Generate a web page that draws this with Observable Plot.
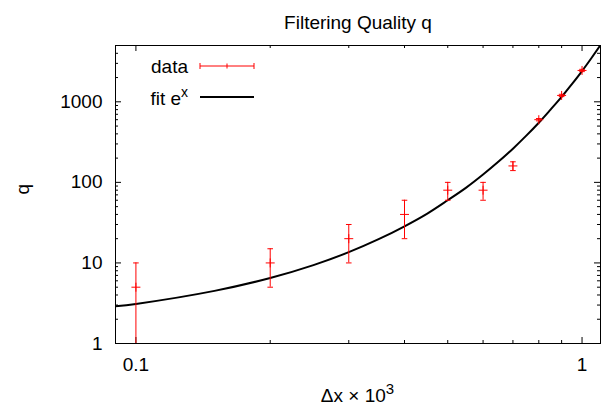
<!DOCTYPE html>
<html><head><meta charset="utf-8">
<script src="https://cdn.jsdelivr.net/npm/d3@7"></script>
<script src="https://cdn.jsdelivr.net/npm/@observablehq/plot@0.6"></script>
<style>
body{margin:0;background:#fff;}
#chart{width:614px;height:411px;}
</style></head><body><div id="chart"></div>
<script>
// ---- data ----
const xData = [0.1, 0.2, 0.3, 0.4, 0.5, 0.6, 0.7, 0.8, 0.9, 1.0];
const qData = [5, 10, 20, 40, 80, 80, 160, 600, 1200, 2450];
const qLow  = [0, 5, 10, 20, 60, 60, 140, 580, 1160, 2370];
const qHigh = [10, 15, 30, 60, 100, 100, 180, 620, 1240, 2530];

const fitX = [0.09, 0.1, 0.15, 0.2, 0.25, 0.3, 0.35, 0.4, 0.45, 0.5, 0.55, 0.6, 0.65, 0.7, 0.75, 0.8, 0.85, 0.9, 0.95, 1.0, 1.05, 1.1];
const fitQ = [2.9, 3.1, 4.5, 6.5, 9.4, 13.6, 19.7, 28.5, 41, 60, 86, 125, 181, 262, 380, 550, 800, 1150, 1670, 2410, 3500, 5060];

const xMajorTicks = [0.1, 1];
const xMinorTicks = [0.2, 0.3, 0.4, 0.5, 0.6, 0.7, 0.8, 0.9];
const yMajorTicks = [1, 10, 100, 1000];
const yMinorTicks = [2, 3, 4, 5, 6, 7, 8, 9, 20, 30, 40, 50, 60, 70, 80, 90, 200, 300, 400, 500, 600, 700, 800, 900, 2000, 3000, 4000];

const titleText = "Filtering Quality q";
const xLabelBase = "Δx × 10";
const xLabelSup = "3";
const yLabelText = "q";
const legendData = "data";
const legendFit = "fit e";
const legendFitSup = "x";

// ---- layout ----
const W = 614, H = 411, mL = 115, mR = 14, mT = 45, mB = 68;
const frameW = W - mL - mR, frameH = H - mT - mB;
const FONT = "'Liberation Sans', Arial, Helvetica, sans-serif";
const RED = "#ff0000";

const points = xData.map((x, i) => ({x, q: qData[i], lo: qLow[i], hi: qHigh[i]}));
const fit = fitX.map((x, i) => ({x, q: fitQ[i]}));

const capSymbol = {
  draw(context, size) {
    const w = Math.sqrt(size / Math.PI);
    context.moveTo(-w, 0);
    context.lineTo(w, 0);
  }
};

const svg = Plot.plot({
  width: W, height: H,
  marginLeft: mL, marginRight: mR, marginTop: mT, marginBottom: mB,
  style: {fontFamily: FONT, fontSize: "19px", background: "white", color: "black"},
  x: {type: "log", domain: [0.09, 1.1]},
  y: {type: "log", domain: [1, 5000]},
  marks: [
    // inward ticks (mirrored)
    Plot.tickX(xMajorTicks, {x: d => d, insetTop: frameH - 6, stroke: "black"}),
    Plot.tickX(xMajorTicks, {x: d => d, insetBottom: frameH - 6, stroke: "black"}),
    Plot.tickX(xMinorTicks, {x: d => d, insetTop: frameH - 3, stroke: "black"}),
    Plot.tickX(xMinorTicks, {x: d => d, insetBottom: frameH - 3, stroke: "black"}),
    Plot.tickY(yMajorTicks, {y: d => d, insetRight: frameW - 6, stroke: "black"}),
    Plot.tickY(yMajorTicks, {y: d => d, insetLeft: frameW - 6, stroke: "black"}),
    Plot.tickY(yMinorTicks, {y: d => d, insetRight: frameW - 3, stroke: "black"}),
    Plot.tickY(yMinorTicks, {y: d => d, insetLeft: frameW - 3, stroke: "black"}),
    // tick labels
    Plot.axisX({ticks: xMajorTicks, tickSize: 0, tickPadding: 14, tickFormat: d => String(d), label: null, fontSize: 19}),
    Plot.axisY({ticks: yMajorTicks, tickSize: 0, tickPadding: 13, tickFormat: d => String(d), label: null, fontSize: 19}),
    // fit curve
    Plot.line(fit, {x: "x", y: "q", stroke: "black", strokeWidth: 2, curve: "catmull-rom", clip: true}),
    // error bars
    Plot.ruleX(points, {x: "x", y1: d => Math.max(d.lo, 1), y2: "hi", stroke: RED, strokeWidth: 1}),
    Plot.dot(points.filter(d => d.lo >= 1), {x: "x", y: "lo", symbol: capSymbol, r: 2.8, stroke: RED, strokeWidth: 1}),
    Plot.dot(points, {x: "x", y: "hi", symbol: capSymbol, r: 2.8, stroke: RED, strokeWidth: 1}),
    Plot.dot(points, {x: "x", y: "q", symbol: "plus", r: 3, stroke: RED, strokeWidth: 1}),
    Plot.frame({stroke: "black", strokeWidth: 1}),
    // texts
    Plot.text([titleText], {text: d => d, frameAnchor: "top", dy: -30, fontSize: 19}),
    Plot.text([yLabelText], {text: d => d, frameAnchor: "left", dx: -93, rotate: -90, fontSize: 19})
  ]
});
document.getElementById("chart").appendChild(svg);

const g = d3.select(svg).append("g").attr("font-family", FONT).attr("font-size", 19);

// ---- x axis label with superscript ----
const xl = g.append("text").attr("x", mL + frameW / 2).attr("y", 402).attr("text-anchor", "middle");
xl.append("tspan").text(xLabelBase);
xl.append("tspan").attr("dy", -8).attr("font-size", 15).text(xLabelSup);

// ---- legend (inside the frame, top-left) ----
const lx0 = 200, lx1 = 254, ly1 = 66, ly2 = 97, textX = 188;
g.append("text").attr("x", textX).attr("y", ly1 + 7).attr("text-anchor", "end").text(legendData);
g.append("line").attr("x1", lx0).attr("x2", lx1).attr("y1", ly1).attr("y2", ly1).attr("stroke", RED);
[lx0, lx1].forEach(x => g.append("line").attr("x1", x).attr("x2", x).attr("y1", ly1 - 3).attr("y2", ly1 + 3).attr("stroke", RED));
g.append("line").attr("x1", (lx0 + lx1) / 2).attr("x2", (lx0 + lx1) / 2).attr("y1", ly1 - 2.5).attr("y2", ly1 + 2.5).attr("stroke", RED);
const ft = g.append("text").attr("x", textX).attr("y", ly2 + 8).attr("text-anchor", "end");
ft.append("tspan").text(legendFit);
ft.append("tspan").attr("dy", -8).attr("font-size", 14).text(legendFitSup);
g.append("line").attr("x1", lx0).attr("x2", lx1).attr("y1", ly2).attr("y2", ly2).attr("stroke", "black").attr("stroke-width", 2);
</script>
</body></html>
